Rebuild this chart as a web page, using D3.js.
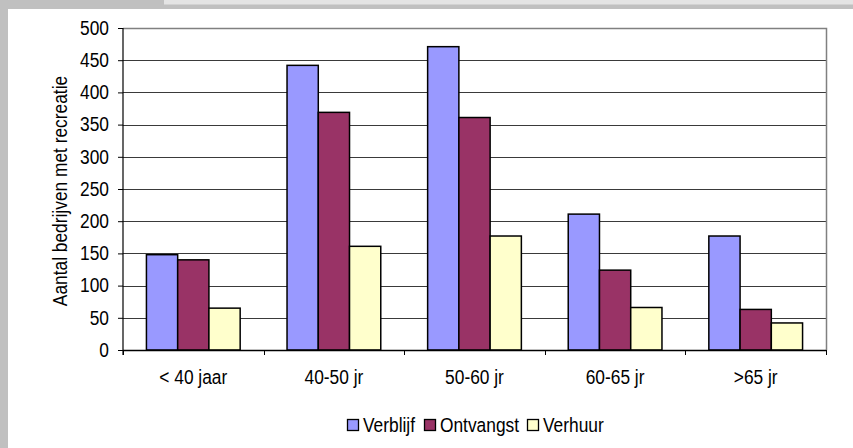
<!DOCTYPE html>
<html>
<head>
<meta charset="utf-8">
<script src="https://cdn.jsdelivr.net/npm/d3@7"></script>
<style>
  html, body { margin: 0; padding: 0; background: #c0c0c0; }
  svg { display: block; font-family: "Liberation Sans", Arial, sans-serif; }
</style>
</head>
<body>
<script>
// Age groups and the number of farms per type of recreation
const categories = ["< 40 jaar", "40-50 jr", "50-60 jr", "60-65 jr", ">65 jr"];
const seriesNames = ["Verblijf", "Ontvangst", "Verhuur"];
const verblijf  = [148, 442, 471, 211, 177];
const ontvangst = [140, 369, 361, 124, 63];
const verhuur   = [65, 161, 177, 66, 42];
const yTicks = [0, 50, 100, 150, 200, 250, 300, 350, 400, 450, 500];
const yTitle = "Aantal bedrijven met recreatie";

const seriesValues = [verblijf, ontvangst, verhuur];
const colors = ["#9999ff", "#993366", "#ffffcc"];
const FS = 19.5;      // font size
const SX = 0.89;      // horizontal squeeze for a condensed look

const W = 853, H = 448;
const svg = d3.select("body").append("svg").attr("width", W).attr("height", H);

// outer frame: grey border, lighter strip on top, white chart panel
svg.append("rect").attr("x", 0).attr("y", 0).attr("width", W).attr("height", H).attr("fill", "#c0c0c0");
svg.append("rect").attr("x", 164).attr("y", 0).attr("width", W - 164).attr("height", 4.5).attr("fill", "#e4e4e4");
svg.append("rect").attr("x", 8).attr("y", 9).attr("width", W - 8).attr("height", H - 9).attr("fill", "#ffffff");

const plot = { left: 123, right: 826, top: 28, bottom: 350 };

const x0 = d3.scaleBand().domain(categories).range([plot.left, plot.right]).paddingInner(0).paddingOuter(0);
// bars: width = group/4.5, outer gaps 0.75 * bar width on each side
const barW = x0.bandwidth() / 4.5;
const x1 = d3.scaleBand().domain(seriesNames).range([barW * 0.75, barW * 3.75]);
const y = d3.scaleLinear().domain([0, 500]).range([plot.bottom, plot.top]);

// text placed at (x, y) and squeezed horizontally
function label(parent, x, yy, txt, anchor, rotate) {
  return parent.append("text")
    .attr("transform", `translate(${x},${yy})${rotate ? ` rotate(${rotate})` : ""} scale(${SX},1)`)
    .attr("text-anchor", anchor || "start")
    .attr("font-size", FS).attr("fill", "#000")
    .text(txt);
}

// horizontal gridlines
svg.append("g").selectAll("line").data(yTicks.filter(d => d > 0 && d < 500)).join("line")
  .attr("x1", plot.left).attr("x2", plot.right)
  .attr("y1", d => Math.round(y(d)) + 0.5).attr("y2", d => Math.round(y(d)) + 0.5)
  .attr("stroke", "#3a3a3a").attr("stroke-width", 1);

// plot area border (top and right)
svg.append("path")
  .attr("d", `M${plot.left},${plot.top + 0.5}H${plot.right + 0.5}V${plot.bottom}`)
  .attr("fill", "none").attr("stroke", "#808080").attr("stroke-width", 1.5);

// bars
const groups = svg.append("g").selectAll("g").data(categories).join("g")
  .attr("transform", d => `translate(${x0(d)},0)`);
groups.selectAll("rect")
  .data((c, i) => seriesNames.map((s, k) => ({ s, k, v: seriesValues[k][i] })))
  .join("rect")
  .attr("x", d => x1(d.s))
  .attr("width", x1.bandwidth())
  .attr("y", d => y(d.v))
  .attr("height", d => y(0) - y(d.v))
  .attr("fill", d => colors[d.k])
  .attr("stroke", "#000").attr("stroke-width", 1.5);

// y axis
const yAxis = svg.append("g").attr("transform", `translate(${plot.left},0)`)
  .call(d3.axisLeft(y).tickValues(yTicks).tickSize(5).tickPadding(8).tickSizeOuter(0));
yAxis.select(".domain").attr("stroke", "#000").attr("stroke-width", 1.2)
  .attr("d", `M0,${plot.top}V${plot.bottom + 5}`);
yAxis.selectAll(".tick line").attr("stroke", "#000");
yAxis.selectAll(".tick text")
  .attr("x", null)
  .attr("transform", `translate(-14,0) scale(${SX},1)`)
  .attr("font-size", FS).attr("fill", "#000")
  .attr("font-family", "Liberation Sans, Arial, sans-serif");

// x axis
const xAxisLine = svg.append("g");
xAxisLine.append("line")
  .attr("x1", plot.left).attr("x2", plot.right)
  .attr("y1", plot.bottom + 0.5).attr("y2", plot.bottom + 0.5)
  .attr("stroke", "#000").attr("stroke-width", 1.5);
const boundaries = categories.map(c => x0(c)).concat([plot.right]);
xAxisLine.selectAll("line.tk").data(boundaries).join("line").attr("class", "tk")
  .attr("x1", d => Math.round(d) + 0.5).attr("x2", d => Math.round(d) + 0.5)
  .attr("y1", plot.bottom).attr("y2", plot.bottom + 5)
  .attr("stroke", "#000").attr("stroke-width", 1);
categories.forEach(c => label(xAxisLine, x0(c) + x0.bandwidth() / 2, 384, c, "middle"));

// y axis title
label(svg, 67, 191, yTitle, "middle", -90);

// legend
const legendX = [347, 424, 527];
const legend = svg.append("g");
seriesNames.forEach((s, i) => {
  legend.append("rect").attr("x", legendX[i] + 0.5).attr("y", 419.5).attr("width", 11).attr("height", 11)
    .attr("fill", colors[i]).attr("stroke", "#000").attr("stroke-width", 1.3);
  label(legend, legendX[i] + 16, 432, s, "start");
});
</script>
</body>
</html>
